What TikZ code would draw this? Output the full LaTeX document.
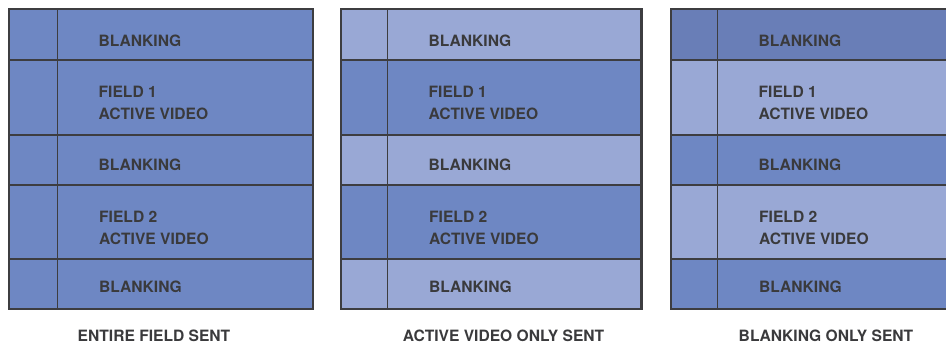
\documentclass[tikz,border=0pt]{standalone}
\usepackage{fontspec}
\setmainfont{TeX Gyre Heros}
\usetikzlibrary{positioning}
\definecolor{fieldBlue}{HTML}{6E87C3}
\definecolor{topBlue}{HTML}{697EB7}
\definecolor{paleBlue}{HTML}{99A8D5}
\definecolor{frameGray}{HTML}{3D3D40}
\definecolor{textGray}{HTML}{3A3A3C}

\begin{document}
\begin{tikzpicture}[x=1pt,y=-1pt,
  lbl/.style={anchor=base west,inner sep=0pt,align=left,textGray,font=\bfseries\fontsize{15.6}{21.8}\selectfont},
  caption/.style={anchor=base,inner sep=0pt,textGray,font=\bfseries\fontsize{15.6}{18}\selectfont}]
\useasboundingbox (0,0) rectangle (946,343);
\clip (0,0) rectangle (946,343);
\foreach \xa/\xb/\xd/\ca/\cb/\cc/\cd/\ce [count=\i] in
  {9/313/57.5/fieldBlue/fieldBlue/fieldBlue/fieldBlue/fieldBlue,
   341/641.5/387.5/paleBlue/fieldBlue/paleBlue/fieldBlue/paleBlue,
   671/975/717.5/topBlue/paleBlue/fieldBlue/paleBlue/fieldBlue}{
  \fill[\ca] (\xa,9) rectangle (\xb,60);
  \fill[\cb] (\xa,60) rectangle (\xb,135);
  \fill[\cc] (\xa,135) rectangle (\xb,185);
  \fill[\cd] (\xa,185) rectangle (\xb,259);
  \fill[\ce] (\xa,259) rectangle (\xb,309);
  \draw[frameGray,line width=1.8pt] (\xd,9)--(\xd,309);
  \foreach \y in {60,135,185,259}
    \draw[frameGray,line width=1.8pt] (\xa,\y)--(\xb,\y);
  \draw[frameGray,line width=2.8pt] (\xa,9) rectangle (\xb,309);
  \node[lbl] (blankA\i) at (\xd+41,46) {BLANKING};
  \node[lbl] (fieldA\i) at (\xd+41,119.3) {FIELD 1\\ACTIVE VIDEO};
  \node[lbl] (blankB\i) at (\xd+41,170) {BLANKING};
  \node[lbl] (fieldB\i) at (\xd+41.5,244.3) {FIELD 2\\ACTIVE VIDEO};
  \node[lbl] (blankC\i) at (\xd+41.5,292.7) {BLANKING};
}
\node[caption] (capEntire) at (154,341.3) {ENTIRE FIELD SENT};
\node[caption] (capActive) at (503.5,341.3) {ACTIVE VIDEO ONLY SENT};
\node[caption] (capBlank) at (826,341.3) {BLANKING ONLY SENT};
\end{tikzpicture}
\end{document}
